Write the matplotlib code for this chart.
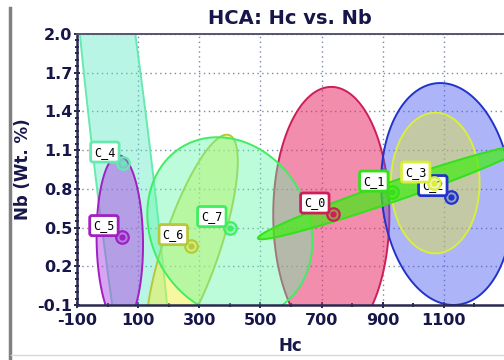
import matplotlib
matplotlib.use("Agg")
import matplotlib.pyplot as plt
import numpy as np
from matplotlib.colors import to_rgba
from matplotlib.ticker import FixedLocator, MultipleLocator, FormatStrFormatter
from matplotlib.lines import Line2D

plt.rcParams["axes.unicode_minus"] = False

# cluster centroids (Hc, Nb)
clusters = ["C_0", "C_1", "C_2", "C_3", "C_4", "C_5", "C_6", "C_7"]
cent_hc = [737, 930, 1123, 1067, 50, 47, 274, 400]
cent_nb = [0.605, 0.775, 0.74, 0.845, 1.0, 0.43, 0.36, 0.50]

# spread ellipses: centre, half extents and correlation
ell_hc = [732, 930, 1110, 1072, 50, 40, 276, 400]
ell_nb = [0.60, 0.775, 0.76, 0.845, 1.0, 0.40, 0.36, 0.50]
ell_shc = [190, 438, 215, 145, 199, 76, 150, 270]
ell_snb = [0.99, 0.366, 0.86, 0.545, 3.5, 0.66, 0.86, 0.70]
ell_rho = [0.0, 0.975, -0.1, 0.0, -0.88, -0.05, 0.76, -0.15]

edge_cols = ["#cc1f5a", "#33e01a", "#2233cc", "#d8f03a",
             "#66eab0", "#a020c0", "#b8c838", "#40ee60"]
fill_cols = ["#e8306a", "#40ee10", "#4a5cf0", "#e0e040",
             "#50e8c0", "#b048e8", "#f0f040", "#60f8a8"]
fill_alpha = [0.55, 0.7, 0.45, 0.45, 0.4, 0.5, 0.5, 0.42]
draw_order = [4, 5, 6, 0, 7, 2, 3, 1]

x_ticks = [-100, 100, 300, 500, 700, 900, 1100, 1300]
y_ticks = [-0.1, 0.2, 0.5, 0.8, 1.1, 1.4, 1.7, 2.0]

navy = "#16164a"

fig = plt.figure(figsize=(5.04, 3.6), dpi=100)
ax = fig.add_axes([77 / 504, 55 / 360, 1 - 77 / 504, 271 / 360])


def ellipse_pts(cx, cy, sx, sy, rho, n=200):
    t = np.linspace(0, 2 * np.pi, n)
    x = cx + sx * np.cos(t)
    y = cy + sy * (rho * np.cos(t) + np.sqrt(1 - rho ** 2) * np.sin(t))
    return x, y


for i in draw_order:
    ex, ey = ellipse_pts(ell_hc[i], ell_nb[i], ell_shc[i], ell_snb[i], ell_rho[i])
    ax.fill(ex, ey, facecolor=to_rgba(fill_cols[i], fill_alpha[i]),
            edgecolor=edge_cols[i], lw=1.4, zorder=2)

for i in range(len(clusters)):
    z = 5 + 2 * i
    ax.plot(cent_hc[i], cent_nb[i], "o", ms=9, mfc=to_rgba(fill_cols[i], 0.35),
            mec=edge_cols[i], mew=1.6, zorder=z)
    ax.plot(cent_hc[i], cent_nb[i], "o", ms=3.5, color=edge_cols[i], zorder=z)
    ax.annotate(clusters[i], (cent_hc[i], cent_nb[i]), xytext=(-18, 11),
                textcoords="offset pixels", ha="center", va="center",
                fontsize=8.5, family="DejaVu Sans Mono", color="black",
                bbox=dict(boxstyle="round,pad=0.3,rounding_size=0.2", fc="white",
                          ec=edge_cols[i], lw=2),
                zorder=z + 1)

ax.set_xlim(-100, 1297)
ax.set_ylim(-0.1, 2.0)

ax.xaxis.set_major_locator(FixedLocator(x_ticks))
ax.xaxis.set_minor_locator(MultipleLocator(100))
ax.yaxis.set_major_locator(FixedLocator(y_ticks))
ax.yaxis.set_minor_locator(MultipleLocator(0.05))
ax.yaxis.set_major_formatter(FormatStrFormatter("%.1f"))

ax.grid(True, which="major", color="#7a88aa", lw=1, ls=(0, (1, 2.5)), zorder=1)
ax.set_axisbelow(True)

ax.tick_params(which="both", direction="inout", color=navy, width=1.3,
               labelsize=11.5, labelcolor=navy, pad=1)
ax.tick_params(axis="x", which="major", pad=3.5)
ax.tick_params(which="major", length=5)
ax.tick_params(which="minor", length=3.5)
for lab in ax.get_xticklabels() + ax.get_yticklabels():
    lab.set_fontweight("bold")

for side in ["left", "bottom"]:
    ax.spines[side].set_color("#2a2a50")
    ax.spines[side].set_linewidth(1.8)
ax.spines["top"].set_color("#555570")
ax.spines["top"].set_linewidth(1.4)
ax.spines["right"].set_visible(False)

ax.set_xlabel("Hc", fontsize=12, fontweight="bold", color=navy, labelpad=6)
ax.set_ylabel("Nb (Wt. %)", fontsize=12, fontweight="bold", color=navy, labelpad=4)
fig.text(0.575, 0.95, "HCA: Hc vs. Nb", ha="center", va="center",
         fontsize=14, fontweight="bold", color=navy)

# panel frame
fig.add_artist(Line2D([9.5 / 504, 9.5 / 504], [0, 1 - 8 / 360],
                      color="#808080", lw=2.5))
fig.add_artist(Line2D([11 / 504, 1], [5 / 360, 5 / 360], color="#d8d8d8", lw=1))

fig.savefig("out.png", dpi=100)
